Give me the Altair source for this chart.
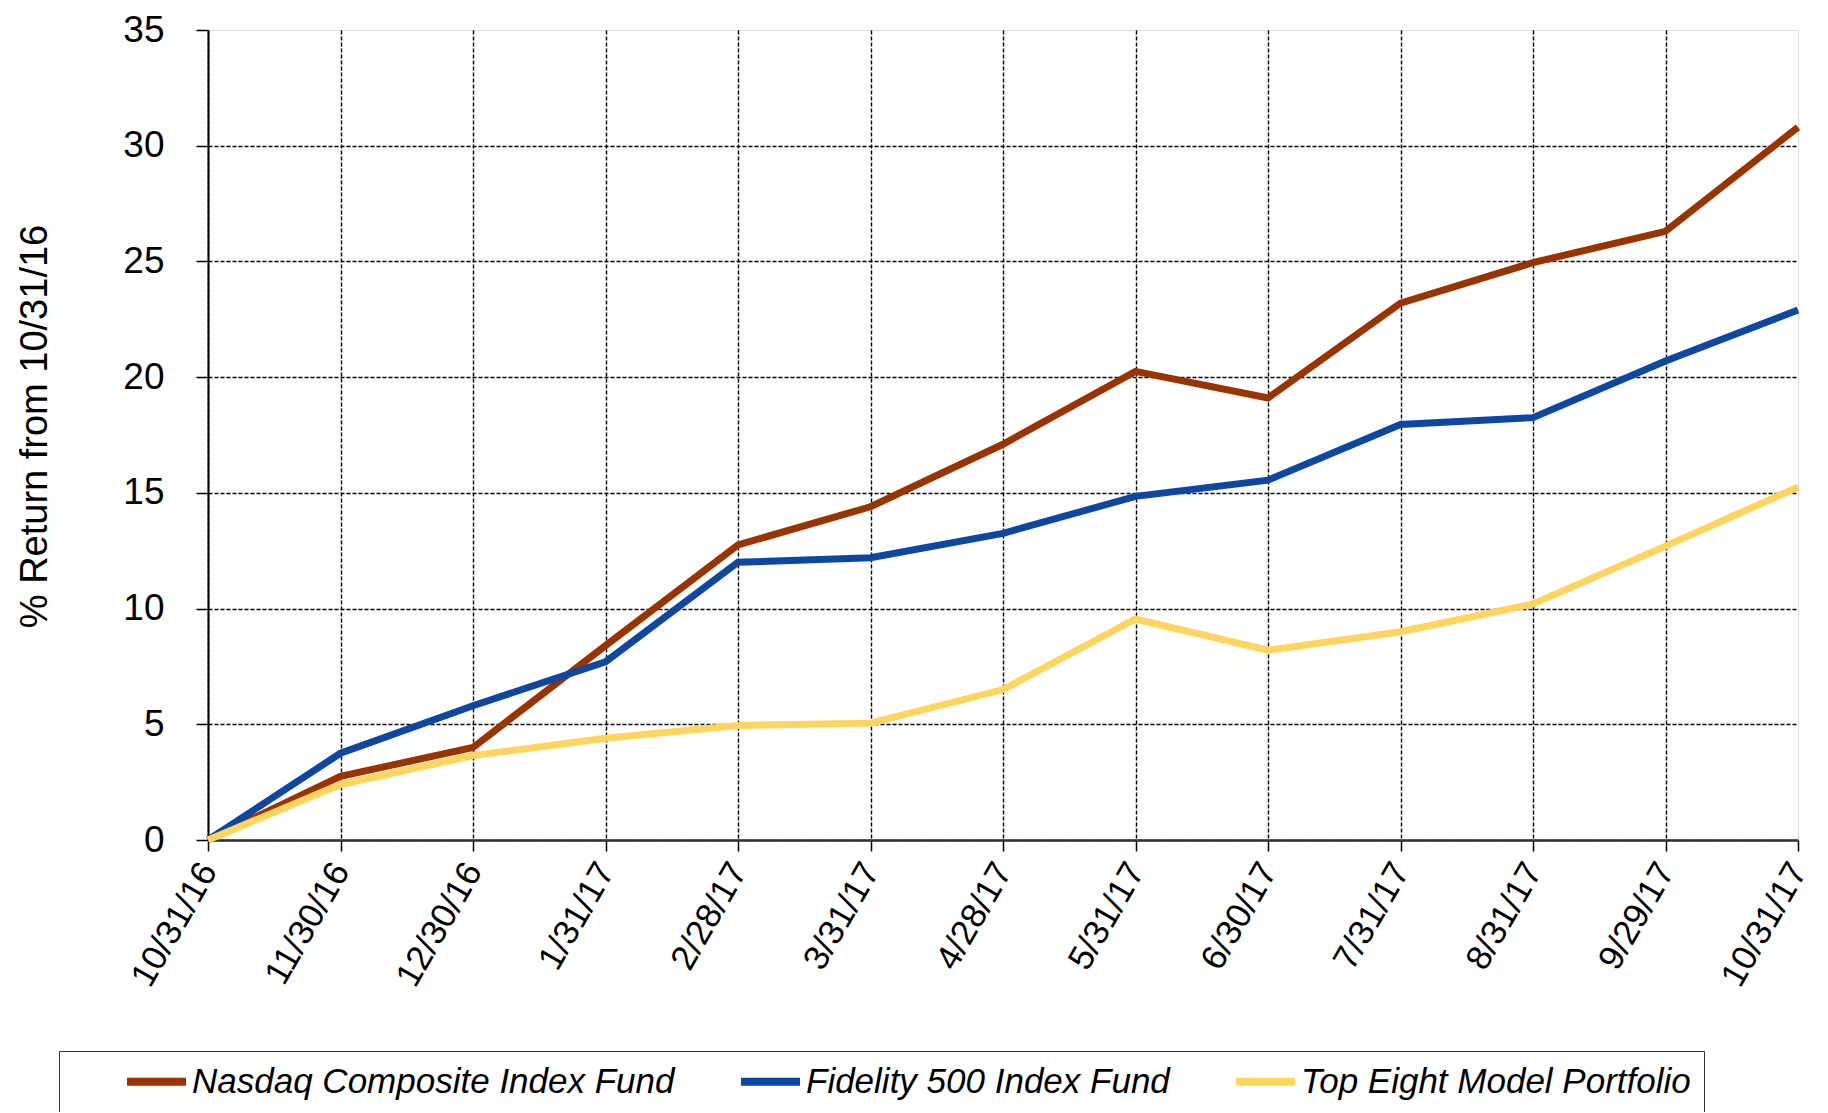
import altair as alt
import pandas as pd

dates = ["10/31/16", "11/30/16", "12/30/16", "1/31/17", "2/28/17", "3/31/17", "4/28/17",
         "5/31/17", "6/30/17", "7/31/17", "8/31/17", "9/29/17", "10/31/17"]
series_names = ["Nasdaq Composite Index Fund", "Fidelity 500 Index Fund", "Top Eight Model Portfolio"]
nasdaq = [0, 2.75, 4.0, 8.4, 12.75, 14.4, 17.1, 20.25, 19.1, 23.2, 24.95, 26.3, 30.8]
fidelity = [0, 3.75, 5.8, 7.7, 12.0, 12.2, 13.25, 14.85, 15.55, 17.95, 18.25, 20.7, 22.9]
top_eight = [0, 2.4, 3.65, 4.4, 4.95, 5.05, 6.5, 9.55, 8.2, 9.0, 10.2, 12.7, 15.25]
colors = ["#993300", "#0D47A1", "#FFD45F"]
y_ticks = [0, 5, 10, 15, 20, 25, 30, 35]

rows = []
for name, vals in zip(series_names, [nasdaq, fidelity, top_eight]):
    for d, v in zip(dates, vals):
        rows.append({"date": d, "value": v, "series": name})
df = pd.DataFrame(rows)

FONT = "Liberation Sans"
NBSP = "\u00a0"

x_axis = alt.Axis(
    title=None, labelAngle=300, labelAlign="right", labelBaseline="middle",
    labelFontSize=35, labelPadding=14, labelColor="black", labelFont=FONT,
    tickSize=11, tickColor="black", tickWidth=1.5,
    domainColor="#333333", domainWidth=2.5,
    grid=True,
    gridColor={"condition": {"test": "datum.value == '10/31/17'", "value": "transparent"}, "value": "black"},
    gridDash=[4, 2], gridWidth=1.4,
)
y_axis = alt.Axis(
    title="% Return from 10/31/16", values=y_ticks,
    titleFontSize=38, titleFontWeight="normal", titleColor="black", titleFont=FONT,
    titlePadding=68, titleY=396,
    labelFontSize=37, labelPadding=32, labelColor="black", labelFont=FONT,
    tickSize=12, tickColor="black", tickWidth=1.5,
    domainColor="black", domainWidth=2,
    grid=True,
    gridColor={"condition": {"test": "datum.value == 35", "value": "transparent"}, "value": "black"},
    gridDash=[4, 2], gridWidth=1.4,
)

legend = alt.Legend(
    orient="none", legendX=-149, legendY=1021, direction="horizontal",
    title=NBSP, titleOrient="left", titlePadding=47, titleFontSize=35, titleFont=FONT,
    symbolType="M-3,0H3", symbolSize=387, symbolStrokeWidth=8, symbolOffset=20,
    labelFontSize=35, labelFontStyle="italic", labelFont=FONT, labelColor="black",
    labelOffset=18, labelLimit=2000, columnPadding=49, padding=13,
    strokeColor="#333333",
)

chart = alt.Chart(df).mark_line(strokeWidth=7).encode(
    x=alt.X("date:N", sort=dates, scale=alt.Scale(type="point", padding=0), axis=x_axis),
    y=alt.Y("value:Q", scale=alt.Scale(domain=[0, 35], nice=False), axis=y_axis),
    color=alt.Color("series:N", sort=series_names,
                    scale=alt.Scale(domain=series_names, range=colors), legend=legend),
).properties(
    width=1590, height=810,
    autosize=alt.AutoSizeParams(type="none"),
    padding={"left": 200, "top": 22, "right": 20, "bottom": 272},
).configure_view(
    stroke="#A6A6A6", strokeWidth=2
).configure_legend(
    strokeWidth=2
).configure(font=FONT)

chart.save("out.html", embed_options={"renderer": "svg", "actions": False})
